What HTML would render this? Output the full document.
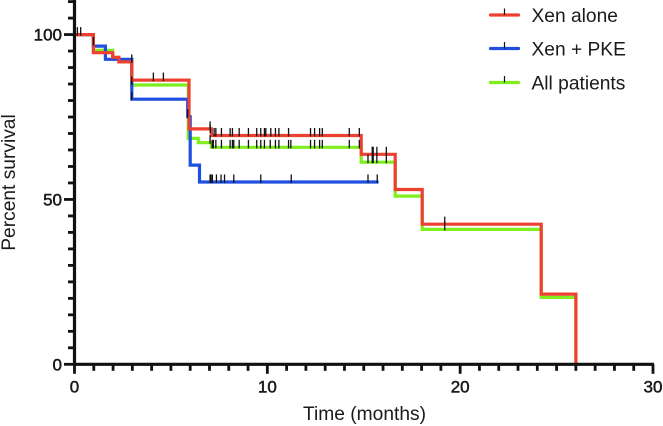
<!DOCTYPE html>
<html>
<head>
<meta charset="utf-8">
<style>
html,body{margin:0;padding:0;background:#fff}
svg{display:block;filter:blur(0.35px)}
text{font-family:"Liberation Sans",sans-serif;fill:#1a1a1a}
</style>
</head>
<body>
<svg id="chart" width="663" height="426" viewBox="0 0 663 426" xmlns="http://www.w3.org/2000/svg">
<g id="series"></g>
<g id="censors"></g>
<g id="axes"></g>
<text x="364.5" y="420" font-size="19.2" text-anchor="middle">Time (months)</text>
<text x="0" y="0" font-size="19.2" text-anchor="middle" transform="translate(15 182.5) rotate(-90)">Percent survival</text>
<g id="legend"></g>
</svg>
<script>
var xTicksMajor = [0, 10, 20, 30];
var yTicksMajor = [0, 50, 100];
var xMax = 30;
var yMax = 110;

var redTimes = [0, 0.98, 1.98, 2.3, 2.97, 5.94, 7.1, 14.87, 16.63, 18.03, 24.2, 26];
var redValues = [100, 94.5, 93.1, 91.7, 86.2, 71.4, 69.4, 63.7, 53, 42.5, 21.3, 0];

var blueTimes = [0, 0.98, 1.6, 2.97, 5.87, 6.0, 6.48, 15.77];
var blueValues = [100, 96.5, 92.5, 80.4, 75.1, 60.4, 55.3, 55.3];

var greenTimes = [0, 0.98, 1.98, 2.3, 2.97, 5.9, 6.42, 7.1, 14.87, 16.63, 18.03, 24.2, 26];
var greenValues = [100, 95.2, 93.1, 91.7, 84.7, 68.5, 67.2, 65.8, 61.3, 51, 40.9, 20.3, 0];

var redCensorTimes = [0.15, 0.32, 0.98, 2.97, 4.09, 4.61, 7.03, 7.04, 7.24, 7.33, 7.62, 8.07, 8.19, 8.54, 9.02, 9.45, 9.66, 9.85, 9.92, 10.18, 10.42, 10.6, 11.1, 12.24, 12.45, 12.71, 12.85, 14.25, 14.77, 15.44, 15.49, 15.68, 16.17, 19.2];
var redCensorValues = [100, 100, 97, 91.7, 86.2, 86.2, 71.4, 70.4, 69.4, 69.4, 69.4, 69.4, 69.4, 69.4, 69.4, 69.4, 69.4, 69.4, 69.4, 69.4, 69.4, 69.4, 69.4, 69.4, 69.4, 69.4, 69.4, 69.4, 69.4, 63.7, 63.7, 63.7, 63.7, 42.5];

var greenCensorTimes = [7.03, 7.14, 7.2, 7.33, 7.62, 8.07, 8.19, 8.26, 8.54, 9.02, 9.45, 9.66, 9.85, 10.15, 10.42, 10.6, 11.1, 11.22, 12.24, 12.45, 12.71, 12.85, 14.25, 14.77, 15.22, 15.44, 15.49, 15.68, 16.17, 19.2];
var greenCensorValues = [67.2, 65.8, 65.8, 65.8, 65.8, 65.8, 65.8, 65.8, 65.8, 65.8, 65.8, 65.8, 65.8, 65.8, 65.8, 65.8, 65.8, 65.8, 65.8, 65.8, 65.8, 65.8, 65.8, 65.8, 61.3, 61.3, 61.3, 61.3, 61.3, 40.9];

var blueCensorTimes = [2.97, 2.97, 5.87, 7.03, 7.08, 7.15, 7.36, 7.6, 7.78, 8.26, 9.66, 11.24, 15.22, 15.7];
var blueCensorValues = [85, 80.4, 75.1, 55.3, 55.3, 55.3, 55.3, 55.3, 55.3, 55.3, 55.3, 55.3, 55.3, 55.3];

var legendLabels = ['Xen alone', 'Xen + PKE', 'All patients'];

var NS = 'http://www.w3.org/2000/svg';
function xScale(t) { return 74.5 + t / xMax * 578.5; }
function yScale(v) { return 364.3 - v / yMax * 362.7; }
function make(tag, attrs, parent) {
  var el = document.createElementNS(NS, tag);
  for (var k in attrs) el.setAttribute(k, attrs[k]);
  parent.appendChild(el);
  return el;
}
function stepPath(ts, vs) {
  var d = 'M' + xScale(ts[0]).toFixed(1) + ' ' + yScale(vs[0]).toFixed(1);
  for (var i = 1; i < ts.length; i++) {
    d += 'H' + xScale(ts[i]).toFixed(1);
    d += 'V' + yScale(vs[i]).toFixed(1);
  }
  return d;
}

var seriesLayer = document.getElementById('series');
var greenLine = make('path', {d: stepPath(greenTimes, greenValues), fill: 'none', stroke: '#7fee1d', 'stroke-width': 3.2}, seriesLayer);


var blueLine = make('path', {d: stepPath(blueTimes, blueValues), fill: 'none', stroke: '#1f4fe0', 'stroke-width': 3.2}, seriesLayer);


var redLine = make('path', {d: stepPath(redTimes, redValues), fill: 'none', stroke: '#ee4030', 'stroke-width': 3.2}, seriesLayer);



var censorLayer = document.getElementById('censors');
function drawCensors(ts, vs, name) {
  for (var i = 0; i < ts.length; i++) {
    var px = xScale(ts[i]), py = yScale(vs[i]);
    var c = make('line', {x1: px, x2: px, y1: py - 7.5, y2: py + 1, stroke: '#111', 'stroke-width': 1.3}, censorLayer);
    
    
  }
}
drawCensors(greenCensorTimes, greenCensorValues, 'all-patients-censor');
drawCensors(blueCensorTimes, blueCensorValues, 'xen-pke-censor');
drawCensors(redCensorTimes, redCensorValues, 'xen-alone-censor');

var axes = document.getElementById('axes');
var yAxisLine = make('line', {x1: xScale(0), x2: xScale(0), y1: 0, y2: 365.8, stroke: '#111', 'stroke-width': 3.2}, axes);


var xAxisLine = make('line', {x1: xScale(0) - 1.5, x2: xScale(xMax) + 1, y1: yScale(0), y2: yScale(0), stroke: '#111', 'stroke-width': 3.2}, axes);



for (var xv = 0; xv <= xMax; xv++) {
  var isMajorX = xTicksMajor.indexOf(xv) >= 0;
  var xt = make('line', {x1: xScale(xv), x2: xScale(xv), y1: yScale(0), y2: yScale(0) + (isMajorX ? 9.5 : 6.5), stroke: '#111', 'stroke-width': 2.8}, axes);
  
  
  if (isMajorX) {
    var xl = make('text', {x: xScale(xv), y: 392.5, 'font-size': 17, 'text-anchor': 'middle', stroke: '#1a1a1a', 'stroke-width': 0.5}, axes);
    xl.textContent = xv;
    
    
  }
}
for (var yv = 0; yv <= yMax; yv += 5) {
  var isMajorY = yTicksMajor.indexOf(yv) >= 0;
  var yt = make('line', {x1: xScale(0), x2: xScale(0) - (isMajorY ? 10.5 : 6.5), y1: yScale(yv), y2: yScale(yv), stroke: '#111', 'stroke-width': 2.8}, axes);
  
  
  if (isMajorY) {
    var yl = make('text', {x: 62, y: yScale(yv) + 6, 'font-size': 17, 'text-anchor': 'end', stroke: '#1a1a1a', 'stroke-width': 0.5}, axes);
    yl.textContent = yv;
    
    
  }
}

var legend = document.getElementById('legend');
var legendColors = ['#ee4030', '#1f4fe0', '#7fee1d'];
var legendYs = [15, 48.5, 82.5];
for (var li = 0; li < legendLabels.length; li++) {
  var ly = legendYs[li];
  var ll = make('line', {x1: 490.5, x2: 518.5, y1: ly, y2: ly, stroke: legendColors[li], 'stroke-width': 3.2, 'stroke-linecap': 'round'}, legend);
  
  
  var lt = make('line', {x1: 504.5, x2: 504.5, y1: ly - 6.5, y2: ly, stroke: '#111', 'stroke-width': 1.2}, legend);
  
  
  var tx = make('text', {x: 531.5, y: ly + 7, 'font-size': 19.2}, legend);
  tx.textContent = legendLabels[li];
  
  
}
</script>
</body>
</html>
